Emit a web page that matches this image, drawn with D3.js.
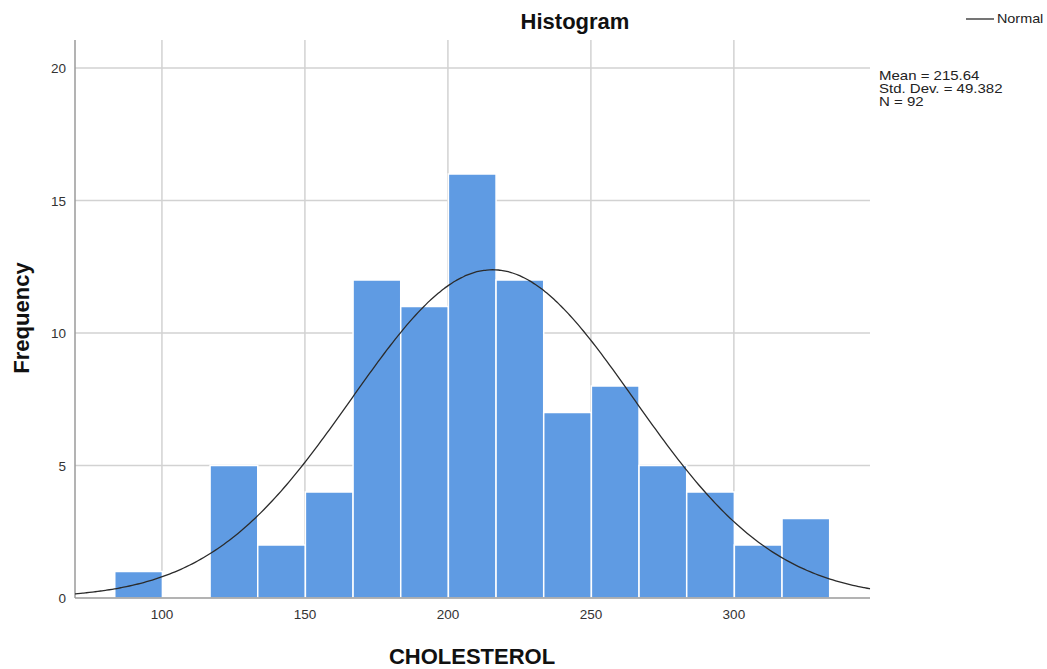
<!DOCTYPE html>
<html><head><meta charset="utf-8">
<script src="https://cdn.jsdelivr.net/npm/d3@7/dist/d3.min.js"></script>
<style>body{margin:0;background:#fff}svg{display:block;font-family:"Liberation Sans",Arial,sans-serif}</style>
</head><body><svg id="c" width="1047" height="669"></svg>
<script>
const binStart = 83.5;
const binWidth = 16.667;
const counts = [1,0,5,2,4,12,11,16,12,7,8,5,4,2,3];
const yTicks = [0,5,10,15,20];
const xTicks = [100,150,200,250,300];
const mean = 215.64, sd = 49.382, n = 92;
const statsLines = ["Mean = 215.64","Std. Dev. = 49.382","N = 92"];

const svg = d3.select("#c");
const x = d3.scaleLinear().domain([69.6,347.6]).range([75,870]);
const y = d3.scaleLinear().domain([0,20]).range([598,68]);

// grid
svg.append("g").selectAll("line").data(yTicks.filter(d=>d>0)).join("line")
  .attr("x1",75).attr("x2",870).attr("y1",d=>y(d)).attr("y2",d=>y(d))
  .attr("stroke","#d2d2d2").attr("stroke-width",1.5);
svg.append("g").selectAll("line").data(xTicks).join("line")
  .attr("x1",d=>x(d)).attr("x2",d=>x(d)).attr("y1",40).attr("y2",598)
  .attr("stroke","#d2d2d2").attr("stroke-width",1.5);

// bars
const bins = counts.map((c,i)=>({x0:binStart+i*binWidth,x1:binStart+(i+1)*binWidth,c}));
svg.append("g").selectAll("rect").data(bins.filter(b=>b.c>0)).join("rect")
  .attr("x",d=>x(d.x0)).attr("width",d=>x(d.x1)-x(d.x0))
  .attr("y",d=>y(d.c)).attr("height",d=>y(0)-y(d.c))
  .attr("fill","#5f9be3").attr("stroke","#ffffff").attr("stroke-width",1.5);

// axes
svg.append("line").attr("x1",75).attr("x2",75).attr("y1",40).attr("y2",598).attr("stroke","#9a9a9a").attr("stroke-width",1.5);
svg.append("line").attr("x1",75).attr("x2",870).attr("y1",598).attr("y2",598).attr("stroke","#9a9a9a").attr("stroke-width",1.5);

// normal curve
const pts = d3.range(69.6,347.7,1).map(v=>[v, n*binWidth*Math.exp(-0.5*((v-mean)/sd)**2)/(sd*Math.sqrt(2*Math.PI))]);
svg.append("path").datum(pts).attr("fill","none").attr("stroke","#2b2b2b").attr("stroke-width",1.3)
  .attr("d",d3.line().x(d=>x(d[0])).y(d=>y(d[1])).curve(d3.curveBasis));

// tick labels
svg.append("g").selectAll("text").data(yTicks).join("text")
  .attr("x",66).attr("y",d=>y(d)+5).attr("text-anchor","end").attr("font-size",13.5).attr("fill","#333").text(d=>d);
svg.append("g").selectAll("text").data(xTicks).join("text")
  .attr("x",d=>x(d)).attr("y",619).attr("text-anchor","middle").attr("font-size",13.5).attr("fill","#333").text(d=>d);

// titles
svg.append("text").attr("x",575).attr("y",29).attr("text-anchor","middle").attr("font-size",22).attr("font-weight","bold").attr("fill","#111").text("Histogram");
svg.append("text").attr("x",472).attr("y",664).attr("text-anchor","middle").attr("font-size",22).attr("font-weight","bold").attr("fill","#111").text("CHOLESTEROL");
svg.append("text").attr("transform","translate(29,318) rotate(-90)").attr("text-anchor","middle").attr("font-size",22).attr("font-weight","bold").attr("fill","#111").text("Frequency");

// legend
svg.append("line").attr("x1",966).attr("x2",994).attr("y1",19).attr("y2",19).attr("stroke","#2b2b2b").attr("stroke-width",1.3);
svg.append("text").attr("x",997).attr("y",23).attr("transform","translate(997,0) scale(1.15,1) translate(-997,0)").attr("font-size",12.5).attr("fill","#222").text("Normal");
svg.append("g").attr("transform","translate(879,0) scale(1.2,1)")
  .selectAll("text").data(statsLines).join("text")
  .attr("x",0).attr("y",(d,i)=>80+i*13).attr("font-size",12.5).attr("fill","#222").text(d=>d);
</script></body></html>
